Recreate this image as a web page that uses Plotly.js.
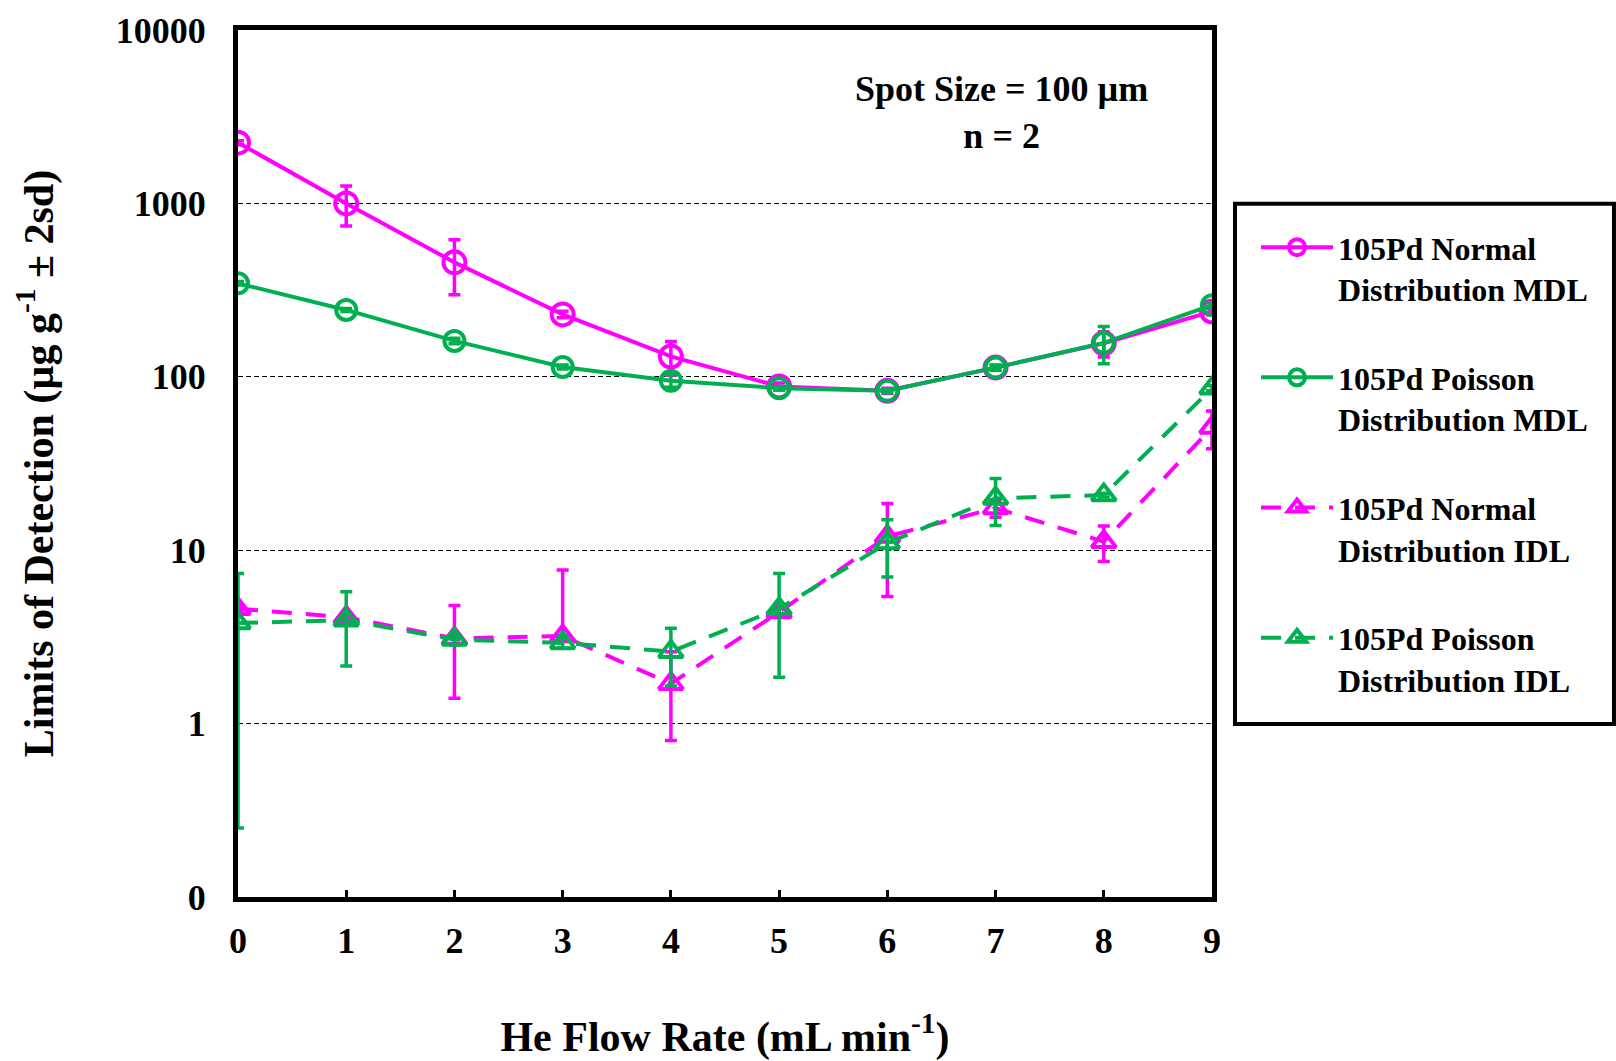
<!DOCTYPE html>
<html>
<head>
<meta charset="utf-8">
<script src="https://cdn.plot.ly/plotly-3.0.1.min.js"></script>
<style>
  html, body { margin: 0; padding: 0; background: #fff; }
  #chart { width: 1616px; height: 1061px; }
</style>
</head>
<body>
<div id="chart"></div>
<script>
// He flow rate (mL/min)
const flowRate = [0, 1, 2, 3, 4, 5, 6, 7, 8, 9];

// 105Pd method detection limits (µg/g), normal and Poisson statistics, with 2sd
const normalMDL      = [2240, 1000, 457, 229, 131, 88, 83, 113, 156, 238];
const normalMDLErr   = [60, 260, 160, 10, 29, 4, 3, 4, 26, 10];
const poissonMDL     = [346, 243, 161, 114, 95, 86, 83, 113, 157, 259];
const poissonMDLErr  = [8, 5, 6, 3, 8, 2, 2, 3, 38, 8];

// 105Pd instrument detection limits (µg/g), with 2sd
const normalIDL         = [4.6, 4.1, 3.1, 3.2, 1.7, 4.4, 12.0, 17.5, 11.2, 51];
const normalIDLErrPlus  = [0.2, 0.2, 1.7, 4.5, 0.9, 0.3, 6.6, 2.0, 2.6, 12.5];
const normalIDLErrMinus = [0.2, 0.2, 1.7, 0.0, 0.9, 0.3, 6.6, 2.0, 2.6, 12.5];
const poissonIDL        = [3.8, 3.95, 3.05, 2.92, 2.6, 4.6, 11.0, 19.9, 20.8, 86];
const poissonIDLErr     = [3.55, 1.8, 0.2, 0.2, 0.95, 2.75, 4.0, 6.0, 0.5, 3];

// Axis ticks
const yTickVals = [0.1, 1, 10, 100, 1000, 10000];
const yTickText = ['0', '1', '10', '100', '1000', '10000'];

const MAGENTA = '#FF00FF';
const GREEN = '#00B050';
const FONT = 'Liberation Serif, Times New Roman, serif';

function errBar(color, plus, minus) {
  const e = { type: 'data', color: color, thickness: 3.5, width: 6, visible: true };
  if (minus) { e.symmetric = false; e.array = plus; e.arrayminus = minus; }
  else { e.symmetric = true; e.array = plus; }
  return e;
}

const traces = [
  {
    x: flowRate, y: normalMDL, name: '105Pd Normal<br>Distribution MDL',
    mode: 'lines+markers', legendgroup: 'a',
    line: { color: MAGENTA, width: 4 },
    marker: { symbol: 'circle-open', size: 22, color: MAGENTA, line: { width: 4, color: MAGENTA } },
    error_y: errBar(MAGENTA, normalMDLErr)
  },
  {
    x: flowRate, y: poissonMDL, name: '105Pd Poisson<br>Distribution MDL',
    mode: 'lines+markers', legendgroup: 'b',
    line: { color: GREEN, width: 4 },
    marker: { symbol: 'circle-open', size: 20, color: GREEN, line: { width: 4, color: GREEN } },
    error_y: errBar(GREEN, poissonMDLErr)
  },
  {
    x: flowRate, y: normalIDL, name: '105Pd Normal<br>Distribution IDL',
    mode: 'lines+markers', legendgroup: 'c',
    line: { color: MAGENTA, width: 4, dash: '20px,14px' },
    marker: { symbol: 'triangle-up-open', size: 21, color: MAGENTA, line: { width: 4, color: MAGENTA } },
    error_y: errBar(MAGENTA, normalIDLErrPlus, normalIDLErrMinus)
  },
  {
    x: flowRate, y: poissonIDL, name: '105Pd Poisson<br>Distribution IDL',
    mode: 'lines+markers', legendgroup: 'd',
    line: { color: GREEN, width: 4, dash: '20px,14px' },
    marker: { symbol: 'triangle-up-open', size: 21, color: GREEN, line: { width: 4, color: GREEN } },
    error_y: errBar(GREEN, poissonIDLErr)
  }
];

const layout = {
  width: 1616, height: 1061,
  margin: { l: 238, r: 404, t: 30, b: 164, pad: 0 },
  paper_bgcolor: '#ffffff', plot_bgcolor: '#ffffff',
  font: { family: FONT, color: '#000', size: 32, weight: 'bold' },
  showlegend: true,
  xaxis: {
    type: 'linear', range: [0, 9],
    tickvals: flowRate, ticktext: flowRate.map(String),
    ticks: 'inside', ticklen: 7, tickwidth: 3, tickcolor: '#000',
    showline: true, linecolor: '#000', linewidth: 5, mirror: true,
    showgrid: false, zeroline: false, layer: 'below traces',
    tickfont: { family: FONT, size: 36, weight: 'bold', color: '#000' },
    ticklabelstandoff: 8,
    title: { text: 'He Flow Rate (mL min<sup>-1</sup>)', font: { family: FONT, size: 42, weight: 'bold', color: '#000' }, standoff: 64 },
    automargin: false, fixedrange: true
  },
  yaxis: {
    type: 'log', range: [-1, 4],
    tickvals: yTickVals, ticktext: yTickText,
    ticks: '', showline: true, linecolor: '#000', linewidth: 5, mirror: true,
    showgrid: true, gridcolor: '#000', gridwidth: 1, griddash: '5px,3px',
    zeroline: false, layer: 'below traces',
    tickfont: { family: FONT, size: 36, weight: 'bold', color: '#000' },
    ticklabelstandoff: 20,
    title: { text: 'Limits of Detection (µg g<sup>-1</sup> ± 2sd)', font: { family: FONT, size: 42, weight: 'bold', color: '#000' }, standoff: 51 },
    automargin: false, fixedrange: true
  },
  legend: {
    x: 1.0452, y: 0.781, xanchor: 'left', yanchor: 'top',
    bgcolor: 'rgba(0,0,0,0)', borderwidth: 0,
    font: { family: FONT, size: 32, weight: 'bold', color: '#000' },
    traceorder: 'grouped', tracegroupgap: 44, itemwidth: 72, valign: 'top'
  },
  // frame around the legend
  shapes: [{
    type: 'rect', xref: 'paper', yref: 'paper',
    x0: 1.0236, x1: 1.4127, y0: 0.1995, y1: 0.7995,
    line: { color: '#000', width: 4 }, fillcolor: 'rgba(0,0,0,0)', layer: 'above'
  }],
  annotations: [{
    xref: 'paper', yref: 'paper', x: 0.784, y: 0.905,
    xanchor: 'center', yanchor: 'middle', showarrow: false, align: 'center',
    text: 'Spot Size = 100 µm<br>n = 2',
    font: { family: FONT, size: 36, weight: 'bold', color: '#000' }
  }]
};

Plotly.newPlot('chart', traces, layout, { displayModeBar: false, staticPlot: true });
</script>
</body>
</html>
